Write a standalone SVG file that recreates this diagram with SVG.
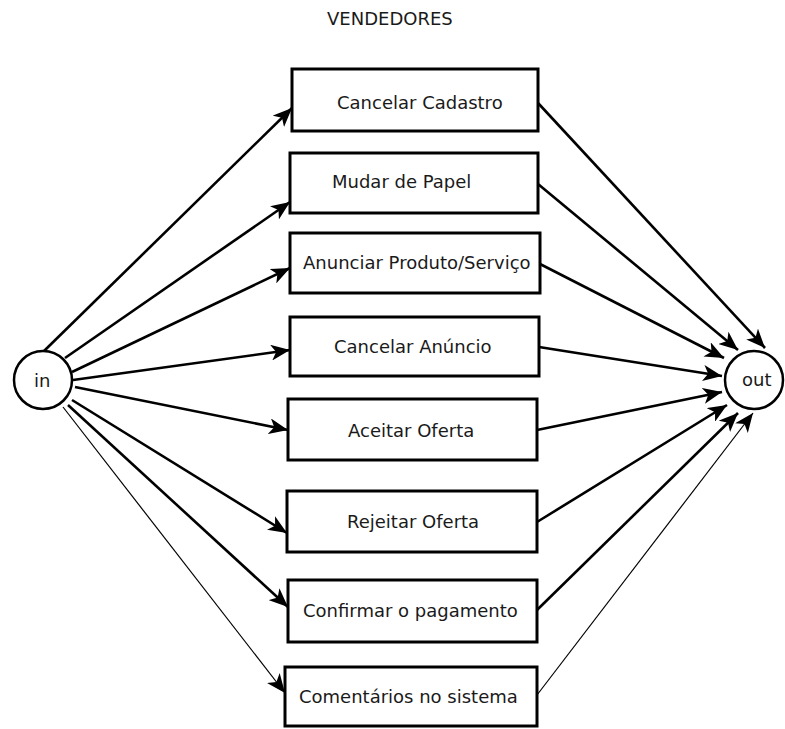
<svg xmlns="http://www.w3.org/2000/svg" width="785" height="729" viewBox="0 0 785 729">
<style>
.box{fill:#fff;stroke:#000;stroke-width:3}
.circ{fill:#fff;stroke:#000;stroke-width:2.5}
.lbl{font-family:"DejaVu Sans",sans-serif;font-size:18px;fill:#1a1a1a}
.ln{stroke:#000;stroke-width:2.6;fill:none;marker-end:url(#ah)}
.thin{stroke:#000;stroke-width:1.2;fill:none;marker-end:url(#ah)}
</style>
<defs>
<marker id="ah" markerUnits="userSpaceOnUse" markerWidth="20" markerHeight="16" refX="19" refY="8" orient="auto">
<path d="M0,0 L19,8 L0,16 L5,8 z" fill="#000"/>
</marker>
</defs>
<rect width="785" height="729" fill="#fff"/>
<text class="lbl" x="327" y="25">VENDEDORES</text>
<g id="connectors">
<line class="ln" x1="43" y1="352" x2="292" y2="108"/>
<line class="ln" x1="65" y1="358" x2="290" y2="202"/>
<line class="ln" x1="72" y1="372" x2="290" y2="268"/>
<line class="ln" x1="73" y1="380" x2="290" y2="350"/>
<line class="ln" x1="75" y1="387" x2="288" y2="430"/>
<line class="ln" x1="72" y1="400" x2="287" y2="533"/>
<line class="ln" x1="68" y1="405" x2="288" y2="607"/>
<line class="thin" x1="63" y1="407" x2="285" y2="693"/>
<line class="ln" x1="538" y1="103" x2="765" y2="348"/>
<line class="ln" x1="538" y1="184" x2="738" y2="350"/>
<line class="ln" x1="540" y1="264" x2="724" y2="358"/>
<line class="ln" x1="539" y1="347" x2="722" y2="376"/>
<line class="ln" x1="537" y1="430" x2="722" y2="392"/>
<line class="ln" x1="537" y1="522" x2="727" y2="405"/>
<line class="ln" x1="537" y1="610" x2="738" y2="413"/>
<line class="thin" x1="537" y1="695" x2="753" y2="413"/>
</g>
<g id="in"><circle class="circ" cx="43" cy="380" r="29"/><text class="lbl" x="34" y="387">in</text></g>
<g id="out"><circle class="circ" cx="754" cy="380" r="29"/><text class="lbl" x="742" y="386">out</text></g>
<g id="n1"><rect class="box" x="292" y="69" width="246" height="62"/><text class="lbl" x="337" y="109">Cancelar Cadastro</text></g>
<g id="n2"><rect class="box" x="290" y="153" width="248" height="60"/><text class="lbl" x="332" y="188">Mudar de Papel</text></g>
<g id="n3"><rect class="box" x="290" y="233" width="250" height="60"/><text class="lbl" x="303" y="269">Anunciar Produto/Serviço</text></g>
<g id="n4"><rect class="box" x="290" y="317" width="249" height="59"/><text class="lbl" x="334" y="353">Cancelar Anúncio</text></g>
<g id="n5"><rect class="box" x="288" y="399" width="249" height="61"/><text class="lbl" x="348" y="437">Aceitar Oferta</text></g>
<g id="n6"><rect class="box" x="287" y="491" width="250" height="61"/><text class="lbl" x="347" y="528">Rejeitar Oferta</text></g>
<g id="n7"><rect class="box" x="288" y="580" width="249" height="62"/><text class="lbl" x="303" y="617">Confirmar o pagamento</text></g>
<g id="n8"><rect class="box" x="285" y="667" width="252" height="59"/><text class="lbl" x="299" y="703">Comentários no sistema</text></g>
</svg>
